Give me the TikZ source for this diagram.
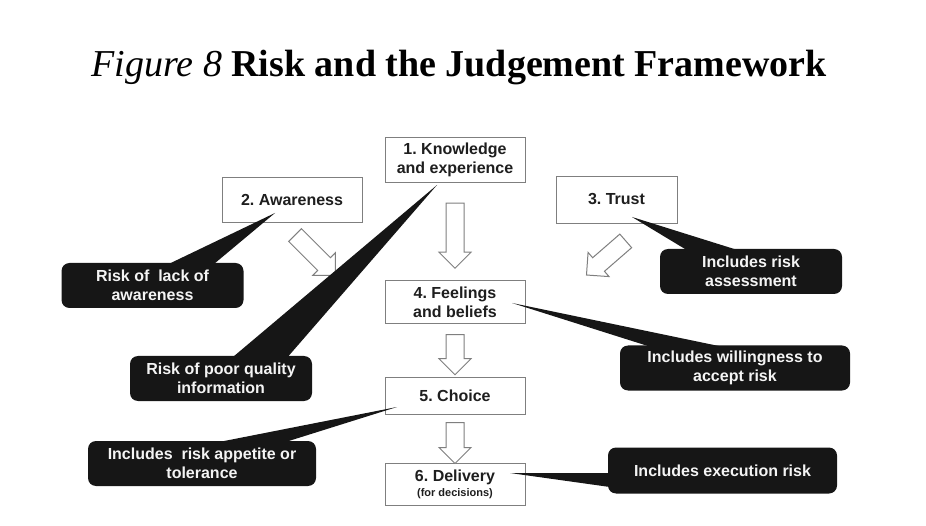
\documentclass[tikz,border=0pt]{standalone}
\usepackage{fontspec}
\setmainfont{Liberation Serif}
\setsansfont{Liberation Sans}
\usetikzlibrary{calc, shapes.arrows}
\frenchspacing
\definecolor{edgegray}{HTML}{7F7F7F}
\definecolor{notefill}{HTML}{161616}
\definecolor{notetext}{HTML}{F4F4F4}
\definecolor{inktext}{HTML}{1E1E1E}
\tikzset{
  stage/.style={draw=edgegray, line width=0.9pt, fill=white, align=center,
                minimum width=140pt, inner sep=2pt, text=inktext,
                font=\sffamily\bfseries\fontsize{16}{19}\selectfont},
  risknote/.style={fill=notefill, rounded corners=8pt, align=center, text=notetext,
                   minimum height=45pt, inner sep=2pt,
                   font=\sffamily\bfseries\fontsize{16}{19}\selectfont},
  pointer/.style={fill=notefill},
  hollow/.style={single arrow, draw=edgegray, fill=white, line width=1pt,
                 inner xsep=0pt, inner ysep=8.5pt, single arrow head extend=7pt},
}

\begin{document}
\begin{tikzpicture}[x=1pt, y=-1pt]
  \useasboundingbox (0,0) rectangle (926,526);
  \node[anchor=base west, font=\fontsize{38}{40}\selectfont] (title) at (88,77)
       {\textit{Figure 8} \textbf{Risk and the Judgement Framework}};

  % stages
  \node[stage, minimum height=45pt] (know) at (455,159.5) {1. Knowledge\\and experience};
  \node[stage, minimum height=45pt] (aware) at (292,199.5) {2. Awareness};
  \node[stage, minimum width=121pt, minimum height=47pt] (trust) at (616.5,199.5) {3. Trust};
  \node[stage, minimum height=43pt] (feel) at (455,302) {4. Feelings\\and beliefs};
  \node[stage, minimum height=37pt] (choice) at (455,395.5) {5. Choice};
  \node[stage, minimum height=42pt] (deliv) at (455,484)
       {6. Delivery\\[-4pt]{\fontsize{11}{12}\selectfont (for decisions)}};

  % hollow arrows
  \foreach \a/\b/\len in {know/feel/65, feel/choice/40, choice/deliv/41}
    \node[hollow, rotate=-90, minimum height=\len pt] (\a-\b) at ($(\a.south)!0.5!(\b.north)$) {};
  \node[hollow, rotate=-45, minimum height=57pt] (awarearr) at (312,252) {};
  \node[hollow, rotate=-139, minimum height=52pt] (trustarr) at (609.5,255) {};

  % risk notes
  \node[risknote, minimum width=182pt] (lack) at (152.5,285.5) {Risk of\ \ lack of\\awareness};
  \node[risknote, minimum width=182pt] (assess) at (751,271.5) {Includes risk\\assessment};
  \node[risknote, minimum width=182pt] (poor) at (221,378.5) {Risk of poor quality\\information};
  \node[risknote, minimum width=230pt] (willing) at (735,368) {Includes willingness to\\accept risk};
  \node[risknote, minimum width=228pt] (appetite) at (202,463.5) {Includes\ \ risk appetite or\\tolerance};
  \node[risknote, minimum width=229pt, minimum height=46pt] (exec) at (722.5,470.5) {Includes execution risk};

  % pointers
  \coordinate (awaretip) at ($(aware.center)+(-17,13.5)$);
  \coordinate (knowtip) at ($(know.center)+(-18,25.5)$);
  \coordinate (trusttip) at ($(trust.center)+(15.5,17.5)$);
  \coordinate (feeltip) at ($(feel.center)+(57,1)$);
  \coordinate (choicetip) at ($(choice.center)+(-58,11.5)$);
  \coordinate (delivtip) at ($(deliv.center)+(55,-11)$);
  \fill[pointer] (awaretip) -- ($(lack.north)+(14.5,2)$) -- ($(lack.north)+(60.5,2)$) -- cycle;
  \fill[pointer] (knowtip) -- ($(poor.north)+(11,2)$) -- ($(poor.north)+(66,2)$) -- cycle;
  \fill[pointer] (trusttip) -- ($(assess.north)+(-63,2)$) -- ($(assess.north)+(-11,2)$) -- cycle;
  \fill[pointer] (feeltip) -- ($(willing.north)+(-83,2)$) -- ($(willing.north)+(-10,2)$) -- cycle;
  \fill[pointer] (choicetip) -- ($(appetite.north)+(13,2)$) -- ($(appetite.north)+(81,2)$) -- cycle;
  \fill[pointer] (delivtip) -- ($(exec.west)+(2,2.5)$) -- ($(exec.west)+(2,16.5)$) -- cycle;
\end{tikzpicture}
\end{document}
